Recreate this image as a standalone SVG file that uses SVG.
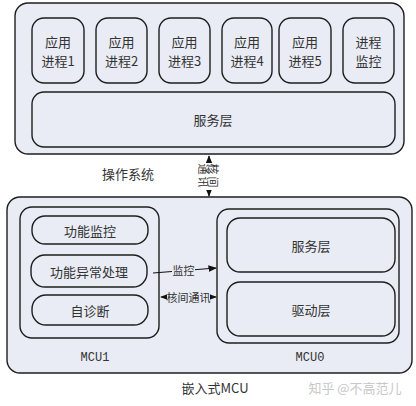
<svg xmlns="http://www.w3.org/2000/svg" width="416" height="406" viewBox="0 0 416 406">
<defs>
<style>
.box{fill:#e9ecf5;stroke:#1e1e1e;stroke-width:1.4}
.t{font-family:"Noto Sans CJK SC","Noto Sans CJK JP",sans-serif;font-size:13px;fill:#333;text-anchor:middle;dominant-baseline:central}
.m{font-family:"Liberation Mono",monospace;font-size:12px;fill:#333;text-anchor:middle;dominant-baseline:central}
.s{font-family:"Noto Sans CJK SC",sans-serif;font-size:11px;fill:#333;text-anchor:middle;dominant-baseline:central}
.ln{stroke:#111;stroke-width:1.2;fill:none}
</style>
<marker id="ah" viewBox="0 0 10 10" refX="9" refY="5" markerWidth="7" markerHeight="7" orient="auto-start-reverse"><path d="M0,1 L10,5 L0,9 Z" fill="#111"/></marker>
</defs>
<rect width="416" height="406" fill="#fff"/>
<g id="os">
<rect class="box" x="15" y="3" width="389" height="151" rx="13"/>
<text class="t" x="128" y="173" font-size="14">操作系统</text>
</g>
<g id="app1"><rect class="box" x="32" y="18" width="52" height="65" rx="12"/><text class="t" x="58" y="41">应用</text><text class="t" x="58" y="60">进程1</text></g>
<g id="app2"><rect class="box" x="96" y="18" width="51" height="65" rx="12"/><text class="t" x="121.5" y="41">应用</text><text class="t" x="121.5" y="60">进程2</text></g>
<g id="app3"><rect class="box" x="159" y="18" width="51" height="65" rx="12"/><text class="t" x="184.5" y="41">应用</text><text class="t" x="184.5" y="60">进程3</text></g>
<g id="app4"><rect class="box" x="222" y="18" width="50" height="65" rx="12"/><text class="t" x="247" y="41">应用</text><text class="t" x="247" y="60">进程4</text></g>
<g id="app5"><rect class="box" x="279" y="18" width="52" height="65" rx="12"/><text class="t" x="305" y="41">应用</text><text class="t" x="305" y="60">进程5</text></g>
<g id="mon"><rect class="box" x="343" y="18" width="51" height="65" rx="12"/><text class="t" x="368.5" y="41">进程</text><text class="t" x="368.5" y="60">监控</text></g>
<g id="svc"><rect class="box" x="32" y="92" width="363" height="55" rx="12"/><text class="t" x="213" y="119">服务层</text></g>
<g id="emb">
<rect class="box" x="7" y="197" width="405" height="176" rx="13"/>
<text class="t" x="215" y="387" font-size="12">嵌入式MCU</text>
</g>
<g id="mcu1">
<rect class="box" x="20" y="207" width="139" height="131" rx="12"/>
<text class="m" x="95" y="358">MCU1</text>
</g>
<g id="fm"><rect class="box" x="32" y="216" width="116" height="28" rx="13"/><text class="t" x="90" y="230">功能监控</text></g>
<g id="fe"><rect class="box" x="31" y="255" width="116" height="32" rx="14"/><text class="t" x="89" y="271">功能异常处理</text></g>
<g id="sd"><rect class="box" x="32" y="295" width="116" height="30" rx="14"/><text class="t" x="90" y="310">自诊断</text></g>
<g id="mcu0">
<rect class="box" x="217" y="209" width="182" height="134" rx="12"/>
<text class="m" x="310" y="358">MCU0</text>
</g>
<g id="svc0"><rect class="box" x="227" y="218" width="168" height="54" rx="13"/><text class="t" x="311" y="245">服务层</text></g>
<g id="drv"><rect class="box" x="227" y="282" width="168" height="54" rx="13"/><text class="t" x="311" y="309">驱动层</text></g>
<g id="connectors">
<line class="ln" x1="209" y1="156" x2="209" y2="196" marker-start="url(#ah)" marker-end="url(#ah)"/>
<rect x="199" y="163" width="20" height="27" fill="#fff"/>
<g transform="translate(209,176.5) rotate(90)">
<text class="s" x="0" y="-5" font-size="9.5" letter-spacing="2">核间</text>
<text class="s" x="0" y="5" font-size="9.5" letter-spacing="2">通讯</text>
</g>
<line class="ln" x1="153" y1="273" x2="216" y2="268" marker-end="url(#ah)"/>
<rect x="172" y="263" width="23" height="13" fill="#e9ecf5"/>
<text class="s" x="183.5" y="269.5">监控</text>
<line class="ln" x1="161" y1="297" x2="216" y2="297" marker-start="url(#ah)" marker-end="url(#ah)"/>
<rect x="167" y="290" width="43" height="14" fill="#e9ecf5"/>
<text class="s" x="188.5" y="297" font-size="10.5">核间通讯</text>
</g>
<text x="355" y="387" font-family="Noto Sans CJK SC,sans-serif" font-size="13" fill="#c8c8c8" text-anchor="middle" dominant-baseline="central">知乎 @不高范儿</text>
</svg>
